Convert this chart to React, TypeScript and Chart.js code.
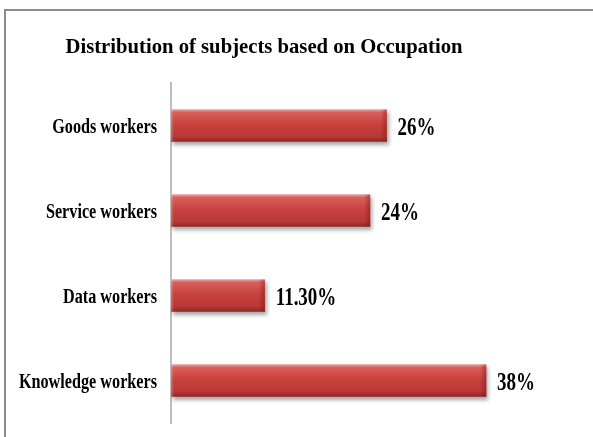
import React, { useEffect, useRef } from "react";
import { Chart, registerables } from "chart.js";

Chart.register(...registerables);

const titleText = "Distribution of subjects based on Occupation";
const categories = ["Goods workers", "Service workers", "Data workers", "Knowledge workers"];
const values = [26, 24, 11.3, 38];
const valueLabels = ["26%", "24%", "11.30%", "38%"];

const SERIF = '"Liberation Serif", "Times New Roman", serif';

function drawScaledText(
  ctx: CanvasRenderingContext2D,
  text: string,
  x: number,
  y: number,
  font: string,
  sx: number,
  align: CanvasTextAlign
) {
  ctx.save();
  ctx.translate(x, y);
  ctx.scale(sx, 1);
  ctx.font = font;
  ctx.textAlign = align;
  ctx.textBaseline = "alphabetic";
  ctx.fillStyle = "#000";
  ctx.fillText(text, 0, 0);
  ctx.restore();
}

const decorPlugin = {
  id: "decor",
  beforeDraw(chart: any) {
    const ctx = chart.ctx as CanvasRenderingContext2D;
    ctx.save();
    ctx.fillStyle = "#fff";
    ctx.fillRect(0, 0, chart.width, chart.height);
    ctx.strokeStyle = "#8c8c8c";
    ctx.lineWidth = 2;
    ctx.beginPath();
    ctx.moveTo(5, chart.height);
    ctx.lineTo(5, 10);
    ctx.lineTo(chart.width, 10);
    ctx.stroke();
    ctx.restore();
  },
  beforeDatasetsDraw(chart: any) {
    const ctx = chart.ctx as CanvasRenderingContext2D;
    ctx.save();
    ctx.shadowColor = "rgba(0,0,0,0.35)";
    ctx.shadowBlur = 4;
    ctx.shadowOffsetX = 2;
    ctx.shadowOffsetY = 3;
  },
  afterDatasetsDraw(chart: any) {
    const ctx = chart.ctx as CanvasRenderingContext2D;
    ctx.restore();
    const meta = chart.getDatasetMeta(0);
    meta.data.forEach((el: any) => {
      const top = el.y - el.height / 2;
      const right = el.x;
      // right-end bevel
      const g = ctx.createLinearGradient(right - 6, 0, right, 0);
      g.addColorStop(0, "rgba(120,20,20,0)");
      g.addColorStop(1, "rgba(120,20,20,0.45)");
      ctx.fillStyle = g;
      ctx.fillRect(right - 6, top, 6, el.height);
      // left bevel light
      const g2 = ctx.createLinearGradient(el.base, 0, el.base + 3, 0);
      g2.addColorStop(0, "rgba(255,200,200,0.35)");
      g2.addColorStop(1, "rgba(255,200,200,0)");
      ctx.fillStyle = g2;
      ctx.fillRect(el.base, top, 3, el.height);
    });
  },
  afterDraw(chart: any) {
    const ctx = chart.ctx as CanvasRenderingContext2D;
    drawScaledText(ctx, titleText, 264, 53, `bold 21px ${SERIF}`, 0.985, "center");
    const yScale = chart.scales.y;
    categories.forEach((c, i) => {
      const cy = yScale.getPixelForValue(i);
      drawScaledText(ctx, c, 157, cy + 7, `bold 20.5px ${SERIF}`, 0.79, "right");
    });
    const meta = chart.getDatasetMeta(0);
    meta.data.forEach((el: any, i: number) => {
      drawScaledText(ctx, valueLabels[i], el.x + 11, el.y + 9.5, `bold 26px ${SERIF}`, 0.73, "left");
    });
  },
};

export default function App() {
  const ref = useRef<HTMLCanvasElement | null>(null);
  useEffect(() => {
    if (!ref.current) return;
    const chart = new Chart(ref.current, {
      type: "bar",
      data: {
        labels: categories,
        datasets: [
          {
            data: values,
            barThickness: 32,
            borderWidth: 0,
            backgroundColor: (c: any) => {
              const ch = c.chart;
              const ys = ch.scales && ch.scales.y;
              if (!ys || !ch.chartArea) return "#c0504d";
              const cy = ys.getPixelForValue(c.dataIndex);
              const top = cy - 16;
              const g = ch.ctx.createLinearGradient(0, top, 0, top + 32);
              g.addColorStop(0, "#eaa3a1");
              g.addColorStop(0.09, "#d9605c");
              g.addColorStop(0.45, "#c9423f");
              g.addColorStop(0.85, "#b93735");
              g.addColorStop(1, "#8e2725");
              return g;
            },
          },
        ],
      },
      options: {
        indexAxis: "y",
        responsive: true,
        maintainAspectRatio: false,
        animation: false,
        layout: { padding: { left: 171, top: 83, bottom: 14, right: 24 } },
        plugins: {
          legend: { display: false },
          title: { display: false },
          tooltip: { enabled: false },
        },
        scales: {
          x: { display: false, min: 0, max: 48 },
          y: {
            ticks: { display: false },
            grid: { display: false, drawTicks: false },
            border: { display: true, color: "#bdbdbd", width: 2 },
          },
        },
      },
      plugins: [decorPlugin],
    });
    return () => chart.destroy();
  }, []);
  return (
    <div style={{ position: "fixed", left: 0, top: 0, width: 593, height: 437, background: "#fff" }}>
      <canvas ref={ref} />
    </div>
  );
}
